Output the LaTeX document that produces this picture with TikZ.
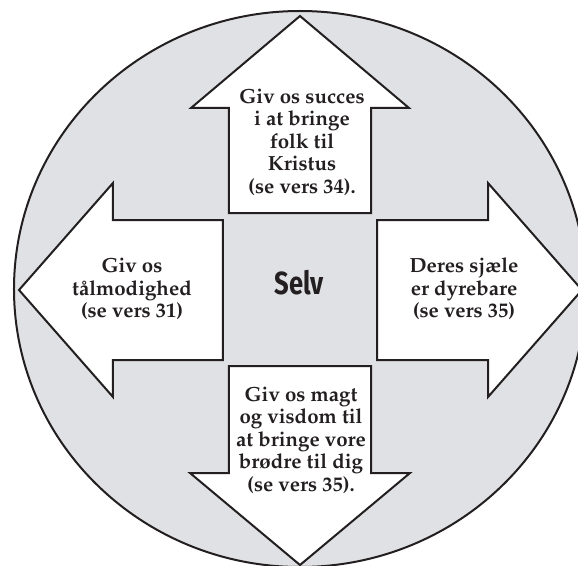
\documentclass[tikz,border=0pt]{standalone}
\usepackage[T1]{fontenc}
\usepackage{fontspec}
\newfontfamily\selvfont{Fira Sans}[FakeStretch=0.8]
\newcommand{\palbf}{\fontencoding{T1}\fontfamily{ppl}\fontseries{b}\selectfont}
\definecolor{cdisc}{RGB}{224,225,228}
\definecolor{cink}{RGB}{35,31,32}

\begin{document}
\begin{tikzpicture}[x=1pt,y=1pt,line width=2pt,
   arr/.style={draw=cink,fill=white,line join=miter},
   lbl/.style={align=center,text=cink,inner sep=0pt,
     font=\palbf\fontsize{20.5}{22.5}\selectfont}]
  \useasboundingbox (-300,-275) rectangle (278,290);
  \draw[cink,fill=cdisc] (0,1) ellipse [x radius=286,y radius=278];
  \draw[arr] (-71,77) -- (-71,182) -- (-109,182) -- (0,274) -- (109,182) -- (71,182) -- (71,77) -- cycle;
  \draw[arr] (-71,-76) -- (-71,-183) -- (-110,-183) -- (0,-275) -- (110,-183) -- (71,-183) -- (71,-76) -- cycle;
  \draw[arr] (-77,70) -- (-187,70) -- (-187,107) -- (-281,0) -- (-187,-107) -- (-187,-70) -- (-77,-70) -- cycle;
  \draw[arr] (77,70) -- (188,70) -- (188,107) -- (282,0) -- (188,-107) -- (188,-70) -- (77,-70) -- cycle;
  \node[lbl] (succes) at (2,148) {Giv os succes\\i at bringe\\folk til\\Kristus\\(se vers 34).};
  \node[lbl] (taalmod) at (-168,1) {Giv os\\tålmodighed\\(se vers 31)};
  \node[lbl] (sjaele) at (164,1) {Deres sjæle\\er dyrebare\\(se vers 35)};
  \node[lbl] (magt) at (1,-150) {Giv os magt\\og visdom til\\at bringe vore\\brødre til dig\\(se vers 35).};
  \node[text=cink,inner sep=0pt,font=\selvfont\bfseries\fontsize{32}{32}\selectfont] (selv) at (-1,7) {Selv};
\end{tikzpicture}
\end{document}
